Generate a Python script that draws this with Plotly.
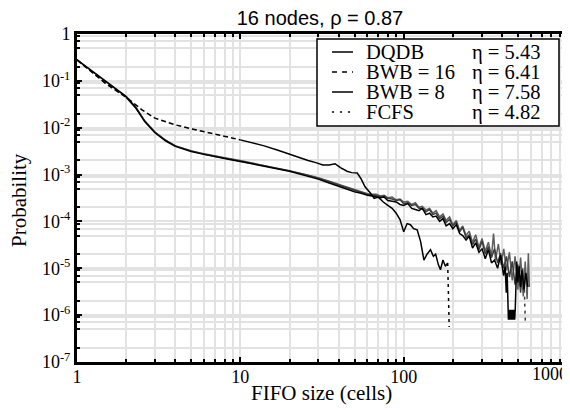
import numpy as np
import plotly.graph_objects as go

# ---------------- data ----------------
x_dqdb = [1, 1.5, 2, 2.3, 2.6, 3, 3.5, 4, 5, 6, 7, 8, 10, 12, 15, 20, 25, 30, 35, 40, 45, 50, 55,
          60, 64, 68, 72, 76, 80, 85, 90, 95, 100, 106, 112, 118, 124, 130, 137, 144, 151, 158, 166,
          174, 182, 191, 200, 210, 220, 230, 241, 252, 264, 276, 289, 302, 316, 330, 345, 360, 376,
          392, 409, 418, 425, 430, 434, 438, 442, 446, 450, 454, 458, 462, 466, 470, 474, 478, 482,
          486, 492, 500, 510, 520, 530, 545, 560, 575]
y_dqdb = [0.28, 0.097, 0.046, 0.026, 0.0135, 0.0078, 0.0052, 0.0040, 0.0031, 0.0027, 0.0024, 0.0022,
          0.0019, 0.00168, 0.00146, 0.00118, 0.00095, 0.00080, 0.00066, 0.00056, 0.00048, 0.00043,
          0.00040,
          3.6e-4, 3.5e-4, 3.3e-4, 3.2e-4, 3.3e-4, 2.8e-4, 2.7e-4, 2.6e-4, 2.3e-4, 2.2e-4,
          2.4e-4, 1.9e-4, 1.8e-4, 1.7e-4, 1.9e-4, 1.4e-4, 1.5e-4, 1.25e-4, 1.3e-4, 1.0e-4,
          1.15e-4, 8e-5, 9e-5, 7e-5, 8.5e-5, 5.5e-5, 5e-5, 4e-5, 4.8e-5, 2.7e-5,
          3.5e-5, 2.2e-5, 2.6e-5, 1.6e-5, 2.5e-5, 1.3e-5, 1.5e-5, 1.0e-5, 1.9e-5, 7e-6,
          1.1e-5, 3e-6, 8e-6,
          1.3e-6, 8e-7, 1.3e-6, 8e-7, 1.3e-6, 8e-7, 1.3e-6, 8e-7, 1.3e-6, 8e-7, 1.3e-6, 8e-7, 1.3e-6,
          6e-6, 1.4e-5, 5e-6, 1.1e-5, 4e-6, 9e-6, 3.5e-6, 8e-6, 4e-6]

x_bwb16 = [1, 1.5, 2, 2.3, 2.6, 3, 3.5, 4, 5, 6, 7, 8, 10, 12, 15, 20, 25, 30, 35, 40, 45, 50, 55,
           60, 64, 68, 72, 76, 80, 85, 90, 95, 100, 106, 112, 118, 124, 130, 137, 144, 151, 158, 166,
           174, 182, 191, 200, 210, 220, 230, 241, 252, 264, 276, 289, 302, 316, 330, 345, 360, 376,
           392, 409, 426, 444, 462, 481, 500, 520, 535, 548, 556]
y_bwb16 = [0.28, 0.088, 0.044, 0.026, 0.0138, 0.0080, 0.0053, 0.0041, 0.0032, 0.0027, 0.00245,
           0.00225, 0.00195, 0.00172, 0.00150, 0.00121, 0.00099, 0.00084, 0.00071, 0.00060, 0.00052,
           0.00046, 0.00042,
           3.8e-4, 3.7e-4, 3.6e-4, 3.4e-4, 3.5e-4, 3.1e-4, 3.0e-4, 2.8e-4, 2.9e-4, 2.4e-4,
           2.5e-4, 2.2e-4, 2.3e-4, 1.9e-4, 1.9e-4, 1.6e-4, 1.8e-4, 1.4e-4, 1.5e-4, 1.15e-4,
           1.3e-4, 9.5e-5, 1.1e-4, 8e-5, 9.5e-5, 6e-5, 7.5e-5, 4.5e-5, 5.2e-5, 3.2e-5,
           4.2e-5, 2.5e-5, 3.8e-5, 2e-5, 2.9e-5, 1.7e-5, 2.6e-5, 1.3e-5, 2.1e-5, 1e-5,
           1.8e-5, 6.5e-6, 1.4e-5, 4.5e-6, 1.2e-5, 3e-6, 1.0e-5, 3.5e-6, 7e-7]

x_bwb8 = [1, 1.5, 2, 2.3, 2.6, 3, 3.5, 4, 5, 6, 7, 8, 10, 12, 15, 20, 25, 30, 35, 40, 45, 50, 55,
          60, 64, 68, 72, 76, 80, 85, 90, 95, 100, 106, 112, 118, 124, 130, 137, 144, 151, 158, 166,
          174, 182, 191, 200, 210, 220, 230, 241, 252, 264, 276, 289, 302, 316, 330, 345, 355, 365,
          380, 395, 410, 426, 444, 462, 481, 500, 520, 540, 555, 570, 580, 588]
y_bwb8 = [0.28, 0.097, 0.046, 0.027, 0.0140, 0.0081, 0.0054, 0.0041, 0.0032, 0.0028, 0.0025,
          0.0023, 0.0020, 0.00175, 0.00152, 0.00123, 0.00101, 0.00086, 0.00072, 0.00062, 0.00054,
          0.00048, 0.00043,
          3.9e-4, 3.8e-4, 3.8e-4, 3.5e-4, 3.6e-4, 3.2e-4, 3.3e-4, 2.9e-4, 3.0e-4, 2.6e-4,
          2.7e-4, 2.3e-4, 2.5e-4, 2.0e-4, 2.1e-4, 1.75e-4, 1.9e-4, 1.5e-4, 1.7e-4, 1.25e-4,
          1.45e-4, 1.05e-4, 1.25e-4, 8.5e-5, 1.05e-4, 6.5e-5, 8e-5, 5e-5, 6.2e-5, 3.6e-5,
          5.2e-5, 2.8e-5, 4.3e-5, 2.3e-5, 3.6e-5, 1.8e-5,
          5.5e-5, 1.5e-5, 3.3e-5, 1.2e-5, 2.6e-5, 9e-6, 2.2e-5, 5.5e-6, 1.8e-5, 3.5e-6,
          1.7e-5, 2.5e-6, 1.4e-5, 2.2e-6, 2.1e-5, 4e-6]

x_fcfs = [1, 1.5, 2, 2.5, 3, 4, 5, 6, 7, 8, 10, 12, 14, 17, 20, 23, 26, 29, 32, 35, 38, 41, 45, 48,
          52, 55, 58, 62, 66, 70, 75, 80, 85, 90, 95, 100, 105, 110, 115, 121, 127, 133, 139, 146,
          152, 157, 163, 168, 174, 180, 186, 190]
y_fcfs = [0.28, 0.088, 0.045, 0.024, 0.016, 0.0115, 0.0095, 0.0082, 0.0072, 0.0065, 0.0055,
          0.0047, 0.0041, 0.0033, 0.0027, 0.0023, 0.0020, 0.0018, 0.0016, 0.0016, 0.0017, 0.0014,
          0.00118, 0.0011, 0.00108, 0.0008, 0.00055, 0.00042, 0.00031, 0.00033, 0.00026, 0.00022,
          0.00019, 0.00015, 0.00011, 6e-5, 9e-5, 8.5e-5, 7e-5, 6.6e-5, 3.7e-5, 1.5e-5, 2e-5, 2.5e-5,
          1.8e-5, 2e-5, 1.2e-5, 9.3e-6, 1.5e-5, 1.1e-5, 1.3e-5, 5.6e-7]

series_names = ["DQDB", "BWB = 16", "BWB = 8", "FCFS"]
eta_labels = ["\u03b7 = 5.43", "\u03b7 = 6.41", "\u03b7 = 7.58", "\u03b7 = 4.82"]

x_ticks = [1, 10, 100]
x_ticktext = ["1", "10", "100"]
y_ticks = [1e-7, 1e-6, 1e-5, 1e-4, 1e-3, 1e-2, 1e-1, 1]
y_ticktext = ["10<sup>-7</sup>", "10<sup>-6</sup>", "10<sup>-5</sup>", "10<sup>-4</sup>",
              "10<sup>-3</sup>", "10<sup>-2</sup>", "10<sup>-1</sup>", "1"]

# ---------------- figure ----------------
# the page has an 8px body margin, so the figure is sized / placed to compensate
OFF = 8
W, H = 570 - OFF, 410 - OFF
L, R, T, B = 77 - OFF, 3, 34 - OFF, 48
PX0, PY1 = 77, 362          # page pixel of plot left / bottom
PPW, PPH = 490, 328         # plot size in page pixels

def px(xp):
    return (xp - PX0) / PPW

def py(yp):
    return (PY1 - yp) / PPH

SERIF = "Liberation Serif, Times New Roman, serif"
SANS = "Liberation Sans, Arial, sans-serif"

fig = go.Figure()

def seg(x, y, lo, hi, color, dash="solid", width=1.5):
    xa = np.array(x, dtype=float)
    ya = np.array(y, dtype=float)
    n = min(len(xa), len(ya))
    xa, ya = xa[:n], ya[:n]
    m = (xa >= lo) & (xa <= hi)
    fig.add_trace(go.Scatter(x=xa[m], y=ya[m], mode="lines",
                             line=dict(color=color, width=width, dash=dash),
                             showlegend=False, hoverinfo="skip"))

GRAY8 = "#5e5e5e"
GRAY16 = "#3c3c3c"
BLACK = "#000000"

seg(x_bwb8, y_bwb8, 1, 1000, GRAY8)
seg(x_bwb16, y_bwb16, 1, 2, GRAY16, dash="5px,3px")
seg(x_bwb16, y_bwb16, 2, 548, GRAY16)
seg(x_bwb16, y_bwb16, 548, 1000, GRAY16, dash="3px,4px")
seg(x_dqdb, y_dqdb, 1, 1000, BLACK)
seg(x_fcfs, y_fcfs, 1, 10, BLACK, dash="5px,3px")
seg(x_fcfs, y_fcfs, 10, 186, BLACK)
seg(x_fcfs, y_fcfs, 186, 1000, BLACK, dash="3px,4px")

grid_c = "#e2e2e2"
x_minor = [m * 10 ** k for k in range(3) for m in range(2, 10)]
y_minor = [m * 10.0 ** k for k in range(-7, 0) for m in (2, 5, 7, 9)]

fig.update_xaxes(type="log", range=[0, 3], tickvals=x_ticks, ticktext=x_ticktext,
                 ticks="inside", ticklen=5, tickwidth=2, tickcolor="black",
                 showline=True, linewidth=3, linecolor="black", mirror="allticks",
                 showgrid=True, gridcolor=grid_c, gridwidth=2, zeroline=False,
                 ticklabelstandoff=-4,
                 tickfont=dict(family=SERIF, size=18, color="black"),
                 minor=dict(tickvals=x_minor, ticks="inside", ticklen=3, tickwidth=1.5,
                            tickcolor="black", showgrid=True, gridcolor=grid_c, gridwidth=2))
fig.update_yaxes(type="log", range=[-7, 0], tickvals=y_ticks, ticktext=y_ticktext,
                 ticks="inside", ticklen=5, tickwidth=2, tickcolor="black",
                 showline=True, linewidth=3, linecolor="black", mirror="allticks",
                 showgrid=True, gridcolor=grid_c, gridwidth=2, zeroline=False,
                 tickfont=dict(family=SERIF, size=18, color="black"),
                 minor=dict(tickvals=y_minor, ticks="inside", ticklen=3, tickwidth=1.5,
                            tickcolor="black", showgrid=True, gridcolor=grid_c, gridwidth=2))

shapes = []
annotations = []

# legend box
shapes.append(dict(type="rect", xref="paper", yref="paper", x0=px(317), x1=px(559),
                   y0=py(126), y1=py(39), line=dict(color="black", width=1.5),
                   fillcolor="white", layer="above"))
rows = [52, 72, 92, 112]
sample_dash = ["solid", "5px,5px", "solid", "2px,6px"]
for i, name in enumerate(series_names):
    yy = py(rows[i])
    shapes.append(dict(type="line", xref="paper", yref="paper", x0=px(332), x1=px(353),
                       y0=yy, y1=yy, line=dict(color="black", width=1.5, dash=sample_dash[i]),
                       layer="above"))
    annotations.append(dict(xref="paper", yref="paper", x=px(364), y=yy, text=name,
                            showarrow=False, xanchor="left", yanchor="middle",
                            font=dict(family=SERIF, size=20.5, color="black")))
    annotations.append(dict(xref="paper", yref="paper", x=px(542), y=yy, text=eta_labels[i],
                            showarrow=False, xanchor="right", yanchor="middle",
                            font=dict(family=SERIF, size=20.5, color="black")))

# "1000" tick label pulled inside the figure
annotations.append(dict(xref="x", yref="paper", x=3, y=0, yshift=0, xshift=3, text="1000",
                        showarrow=False, xanchor="right", yanchor="top",
                        font=dict(family=SERIF, size=18, color="black")))
# axis titles
annotations.append(dict(xref="paper", yref="paper", x=px(321), y=0, yshift=-(393 - PY1),
                        text="FIFO size (cells)", showarrow=False, xanchor="center",
                        yanchor="middle", font=dict(family=SERIF, size=21, color="black")))
annotations.append(dict(xref="paper", yref="paper", x=0, xshift=-(PX0 - 19), y=py(200),
                        text="Probability", textangle=-90, showarrow=False, xanchor="center",
                        yanchor="middle", font=dict(family=SERIF, size=21, color="black")))

fig.update_layout(
    width=W, height=H,
    margin=dict(l=L, r=R, t=T, b=B, autoexpand=False),
    paper_bgcolor="white", plot_bgcolor="white",
    title=dict(text="16 nodes, \u03c1 = 0.87", x=(320 - OFF) / W, xanchor="center",
               y=1 - (18 - OFF) / H, yanchor="middle", yref="container",
               font=dict(family=SANS, size=20, color="black")),
    shapes=shapes, annotations=annotations, showlegend=False,
)

fig.write_html("out.html")
